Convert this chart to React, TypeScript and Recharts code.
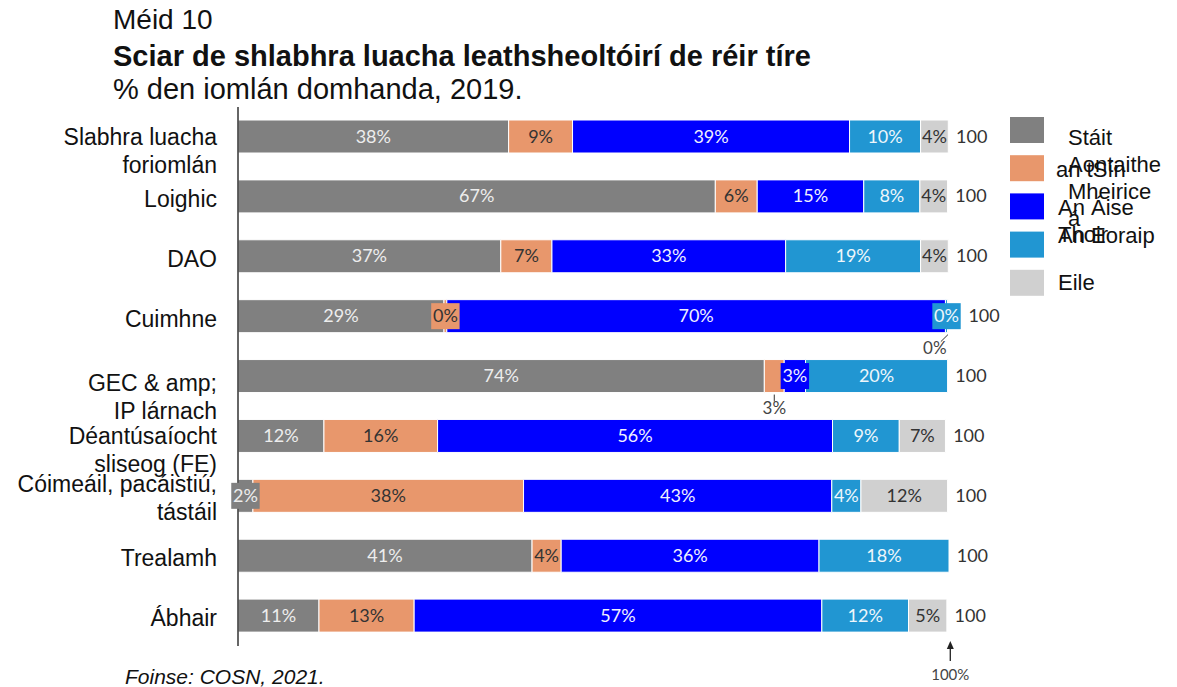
import { BarChart, Bar, XAxis, YAxis, LabelList, Legend } from "recharts";

// categories (line breaks as in the original)
const categories = [
  "Slabhra luacha\nforiomlán",
  "Loighic",
  "DAO",
  "Cuimhne",
  "GEC & amp;\nIP lárnach",
  "Déantúsaíocht\nsliseog (FE)",
  "Cóimeáil, pacáistiú,\ntástáil",
  "Trealamh",
  "Ábhair",
];

// % share of each region
const usa = [38.1, 67.2, 37.0, 29.0, 74.1, 12.1, 2.1, 41.4, 11.4];
const china = [9.0, 5.9, 7.2, 0.4, 2.8, 16.0, 38.1, 4.1, 13.4];
const eastAsia = [39.0, 15.0, 32.9, 70.2, 3.0, 55.6, 43.4, 36.3, 57.4];
const europe = [10.0, 7.9, 19.0, 0.3, 20.0, 9.4, 4.1, 18.3, 12.2];
const other = [3.9, 3.9, 3.9, 0.1, 0, 6.5, 12.2, 0, 5.4];
const totals = [100, 100, 100, 100, 100, 100, 100, 100, 100];

const seriesNames = ["Stáit Aontaithe Mheiriceá", "an tSín", "An Áise Thoir", "An Eoraip", "Eile"];
const legendLines = [["Stáit", "Aontaithe", "Mheirice", "á"], ["an tSín"], ["An Áise", "Thoir"], ["An Eoraip"], ["Eile"]];
const xTicks = [100];

// labels that sit under the bar with a leader line in the original
const belowLabels = [
  ["Cuimhne", "other"],
  ["GEC & amp;\nIP lárnach", "china"],
];

const W = 1177;
const H = 687;
const YAXIS_W = 238;
const MARGIN = { top: 107, right: 228, bottom: 1, left: 0 };
const PLOT_RIGHT = W - MARGIN.right;
const PX = (W - YAXIS_W - MARGIN.right) / 100;
const SANS = "'Liberation Sans', Arial, sans-serif";
const LABEL_FONT = "Lato, 'Open Sans', sans-serif";

const SERIES = [
  { key: "usa", values: usa, color: "#808080", text: "#ededed" },
  { key: "china", values: china, color: "#E8976C", text: "#333333" },
  { key: "eastAsia", values: eastAsia, color: "#0000FF", text: "#f0f0ff" },
  { key: "europe", values: europe, color: "#2196D2", text: "#eef6fb" },
  { key: "other", values: other, color: "#D0D0D0", text: "#333333" },
];

const data = categories.map((name, i) => ({
  name,
  usa: usa[i],
  china: china[i],
  eastAsia: eastAsia[i],
  europe: europe[i],
  other: other[i],
  total: totals[i],
}));

const textW = (t: string) => (t.length - 1) * 10.4 + 14;

const isBelow = (index: number, key: string) =>
  belowLabels.some(([c, k]) => c === categories[index] && k === key);

const tickShift: Record<string, number> = {
  "Slabhra luacha\nforiomlán": 0,
  "GEC & amp;\nIP lárnach": 6,
  "Cóimeáil, pacáistiú,\ntástáil": -12,
};

function CategoryTick({ x, y, payload }: any) {
  const lines = String(payload.value).split("\n");
  const base = y + (lines.length > 1 ? 8 : 10) + (tickShift[payload.value] ?? 0);
  return (
    <text x={x - 13} y={base} textAnchor="end" fontSize={23} fontFamily={SANS} fill="#111">
      {lines.map((l, i) => (
        <tspan key={i} x={x - 13} dy={i === 0 ? 0 : 28}>
          {l}
        </tspan>
      ))}
    </text>
  );
}

function ArrowTick({ x, y, payload }: any) {
  return (
    <g>
      <line x1={x + 2} y1={y + 7} x2={x + 2} y2={y - 7} stroke="#222" strokeWidth={1.3} />
      <path d={`M${x + 2},${y - 13} l-3.5,8 h7 z`} fill="#222" />
      <text x={x + 2} y={y + 26} textAnchor="middle" fontSize={15} fontFamily={LABEL_FONT} fill="#444">
        {payload.value}%
      </text>
    </g>
  );
}

function segmentLabel(s: (typeof SERIES)[number]) {
  return (props: any) => {
    const { x, y, width, height, value, index } = props;
    if (!value) return null;
    const txt = `${Math.round(value)}%`;
    const w = textW(txt);
    const cx = x + width / 2;
    const cy = y + height / 2;
    if (isBelow(index, s.key)) {
      const bottom = y + height;
      const tx = Math.min(cx, PLOT_RIGHT - w / 2 - 2);
      return (
        <g>
          <line x1={cx} y1={bottom + 2} x2={tx + (cx > tx ? 6 : 0)} y2={bottom + 9} stroke="#333" strokeWidth={1} />
          <text x={tx} y={bottom + 21} textAnchor="middle" fontSize={17} fontFamily={LABEL_FONT} fill="#444">
            {txt}
          </text>
        </g>
      );
    }
    const boxed = width < w + 2;
    return (
      <g>
        {boxed && <rect x={cx - w / 2 - 2} y={cy - 13} width={w + 4} height={26} fill={s.color} />}
        <text x={cx} y={cy + 6} textAnchor="middle" fontSize={18} fontFamily={LABEL_FONT} fill={s.text}>
          {txt}
        </text>
      </g>
    );
  };
}

// drawn from the first segment, so rows whose last segment is empty still get it
function TotalLabel(props: any) {
  const { x, y, height, index } = props;
  let pos = x;
  let right = x;
  SERIES.forEach((s) => {
    const v = s.values[index];
    const segW = v * PX;
    const c = pos + segW / 2;
    const w = textW(`${Math.round(v)}%`);
    pos += segW;
    right = Math.max(right, pos);
    if (v > 0 && !isBelow(index, s.key) && segW < w + 2) right = Math.max(right, c + w / 2 + 2);
  });
  return (
    <text x={right + 7} y={y + height / 2 + 6} fontSize={18} fontFamily={LABEL_FONT} fill="#333">
      {totals[index]}
    </text>
  );
}

function renderLegend() {
  const cfg = [
    { dx: 58, dy: 28 },
    { dx: 46, dy: 22 },
    { dx: 48, dy: 22 },
    { dx: 48, dy: 11 },
    { dx: 48, dy: 20 },
  ];
  return (
    <svg width={W} height={H} style={{ position: "absolute", left: 0, top: 0 }}>
      {SERIES.map((s, i) => {
        const top = 117 + i * 38.2;
        return (
          <g key={s.key}>
            <rect x={1010} y={top} width={34} height={26} fill={s.color} />
            <text x={1010 + cfg[i].dx} y={top + cfg[i].dy} fontSize={22} fontFamily={SANS} fill="#111">
              {legendLines[i].map((l, j) => (
                <tspan key={j} x={1010 + cfg[i].dx} dy={j === 0 ? 0 : 27}>
                  {l}
                </tspan>
              ))}
            </text>
          </g>
        );
      })}
    </svg>
  );
}

export default function App() {
  return (
    <div style={{ position: "absolute", left: 0, top: 0, width: W, height: H, background: "#fff", fontFamily: SANS, color: "#111" }}>
      <div style={{ position: "absolute", left: 113, top: 6, fontSize: 28, lineHeight: "28px" }}>Méid 10</div>
      <div style={{ position: "absolute", left: 113, top: 42, fontSize: 29, lineHeight: "29px", fontWeight: "bold" }}>
        Sciar de shlabhra luacha leathsheoltóirí de réir tíre
      </div>
      <div style={{ position: "absolute", left: 113, top: 75, fontSize: 29, lineHeight: "29px" }}>
        % den iomlán domhanda, 2019.
      </div>
      <div style={{ position: "absolute", left: 125, top: 666, fontSize: 21, lineHeight: "21px", fontStyle: "italic" }}>
        Foinse: COSN, 2021.
      </div>
      <BarChart layout="vertical" width={W} height={H} data={data} margin={MARGIN} barSize={33}>
        <XAxis
          type="number"
          domain={[0, 100]}
          ticks={xTicks}
          axisLine={false}
          tickLine={false}
          height={40}
          tick={<ArrowTick />}
        />
        <YAxis
          type="category"
          dataKey="name"
          width={YAXIS_W}
          axisLine={{ stroke: "#333", strokeWidth: 1.5 }}
          tickLine={false}
          interval={0}
          tick={<CategoryTick />}
        />
        <Legend verticalAlign="middle" align="center" layout="horizontal" content={renderLegend} wrapperStyle={{ left: 0, top: 0, width: W, height: H }} />
        {SERIES.map((s, i) => (
          <Bar
            key={s.key}
            dataKey={s.key}
            name={seriesNames[i]}
            stackId="a"
            fill={s.color}
            stroke="#fff"
            strokeWidth={1}
            isAnimationActive={false}
          >
            <LabelList dataKey={s.key} content={segmentLabel(s)} />
            {s.key === "usa" && <LabelList dataKey="total" content={TotalLabel} />}
          </Bar>
        ))}
      </BarChart>
    </div>
  );
}
